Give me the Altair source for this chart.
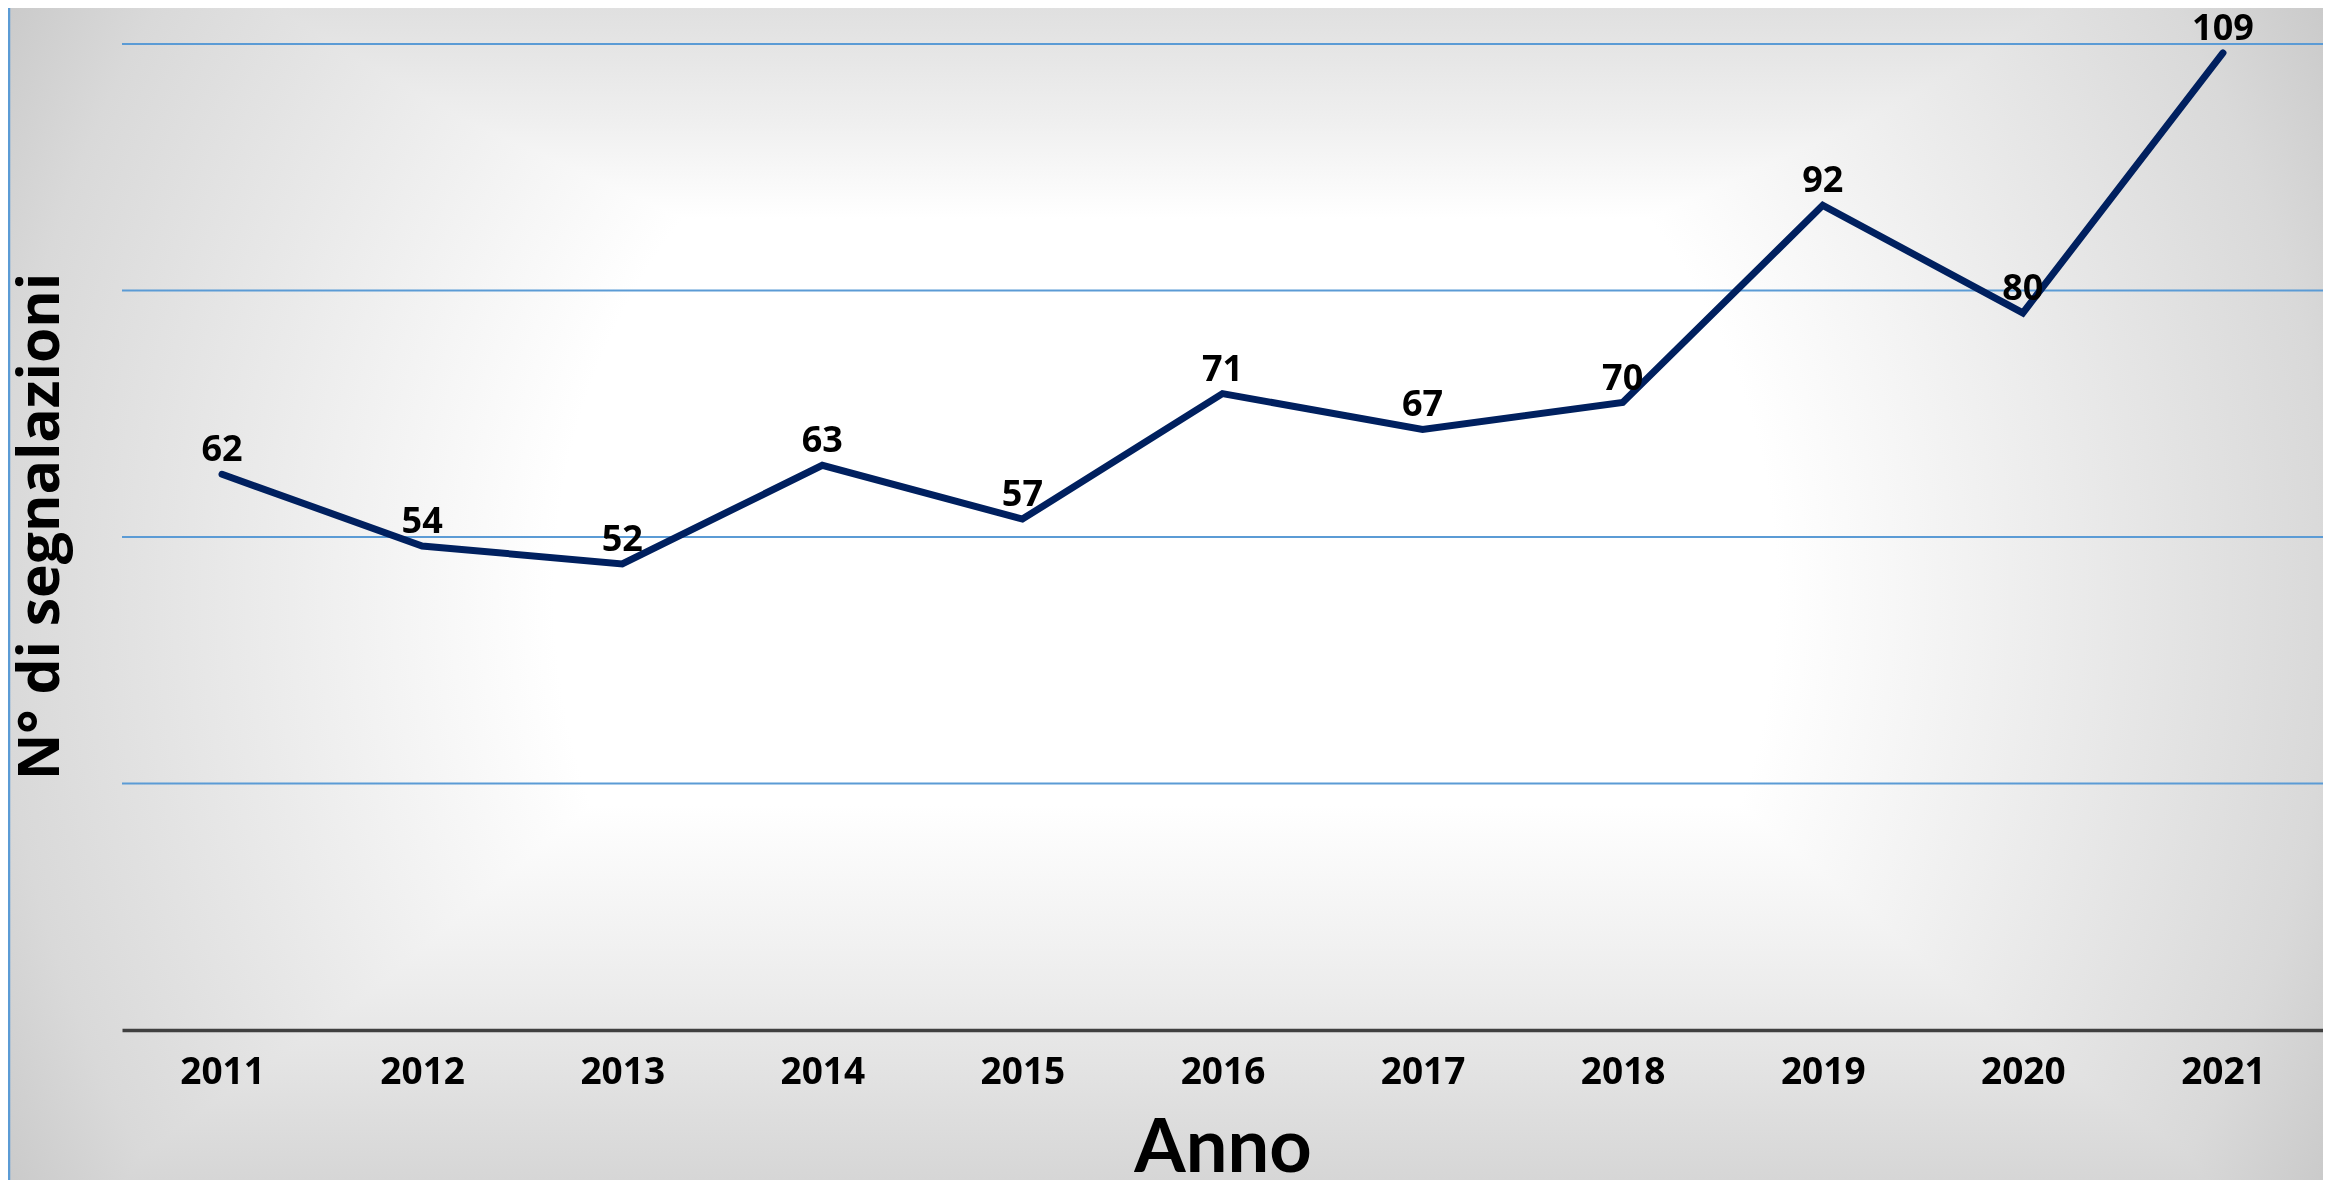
import altair as alt
import pandas as pd

# ---- data ----
years = [2011, 2012, 2013, 2014, 2015, 2016, 2017, 2018, 2019, 2020, 2021]
segnalazioni = [62, 54, 52, 63, 57, 71, 67, 70, 92, 80, 109]
grid_values = [27.5, 55, 82.5, 110]
y_max = 110

df = pd.DataFrame({"Anno": years, "N": segnalazioni})
grid_df = pd.DataFrame({"N": grid_values})

PLOT_W = 2201
PLOT_H = 986
PAD_L, PAD_T, PAD_B = 114, 36, 150

x_axis = alt.Axis(title="Anno", labelAngle=0, labelFont="Open Sans",
                  labelFontSize=37, labelFontWeight="bold", labelColor="black",
                  labelPadding=53, labelBaseline="alphabetic",
                  ticks=False, tickSize=0, domainColor="#404040", domainWidth=3.5,
                  grid=False, titleFont="Lato, Open Sans",
                  titleFontSize=74, titleFontWeight="bold", titleColor="black",
                  titleY=141, titleBaseline="alphabetic", zindex=1)
y_scale = alt.Scale(domain=[0, y_max], nice=False, zero=True)
y_axis = alt.Axis(title="N° di segnalazioni", labels=False, ticks=False,
                  domain=False, grid=False, titleFont="Open Sans",
                  titleFontSize=57, titleFontWeight="bold", titleColor="black",
                  titleX=-81, titleY=PLOT_H / 2 - 11, titleAngle=270,
                  titleAlign="center", titleBaseline="middle", zindex=1)

x_enc = alt.X("Anno:O", scale=alt.Scale(type="point", padding=0.5), axis=x_axis)
y_enc = alt.Y("N:Q", scale=y_scale, axis=y_axis)

radial = {
    "gradient": "radial", "x1": 0.5, "y1": 0.5, "r1": 0, "x2": 0.5, "y2": 0.5, "r2": 0.6,
    "stops": [
        {"offset": 0, "color": "#ffffff"},
        {"offset": 0.44, "color": "#ffffff"},
        {"offset": 0.84, "color": "#d9d9d9"},
        {"offset": 0.95, "color": "#c8c8c8"},
        {"offset": 1, "color": "#c4c4c4"},
    ],
}
vertical = {
    "gradient": "linear", "x1": 0, "y1": 0, "x2": 0, "y2": 1,
    "stops": [
        {"offset": 0, "color": "#e0e0e0"},
        {"offset": 0.04, "color": "#e6e6e6"},
        {"offset": 0.09, "color": "#eeeeee"},
        {"offset": 0.18, "color": "#ffffff"},
        {"offset": 0.68, "color": "#ffffff"},
        {"offset": 0.84, "color": "#ececec"},
        {"offset": 1, "color": "#d6d6d6"},
    ],
}

base = alt.Chart(df)

bg = base.mark_rect(color=radial).encode(
    x=alt.value(-PAD_L), x2=alt.value(PLOT_W), y=alt.value(-PAD_T), y2=alt.value(PLOT_H + PAD_B)
).transform_filter(alt.datum.Anno == 2011)

bg2 = base.mark_rect(color=vertical, blend="darken").encode(
    x=alt.value(-PAD_L), x2=alt.value(PLOT_W), y=alt.value(-PAD_T), y2=alt.value(PLOT_H + PAD_B)
).transform_filter(alt.datum.Anno == 2011)

border = base.mark_rule(color="#5b9bd5", strokeWidth=2.5).encode(
    x=alt.value(-PAD_L + 1), y=alt.value(-PAD_T), y2=alt.value(PLOT_H + PAD_B)
).transform_filter(alt.datum.Anno == 2011)

line = base.mark_line(color="#00205f", strokeWidth=7, strokeJoin="miter",
                      strokeCap="round").encode(x=x_enc, y=y_enc)

grid = alt.Chart(grid_df).mark_rule(color="#5b9bd5", strokeWidth=2).encode(
    y=y_enc, x=alt.value(0), x2=alt.value(PLOT_W)
)

labels = base.mark_text(font="Open Sans", fontWeight="bold", fontSize=36, color="black",
                        baseline="alphabetic", dy=-13).encode(
    x=x_enc, y=y_enc, text="N:Q")

chart = alt.layer(bg, bg2, border, grid, line, labels).properties(
    width=PLOT_W, height=PLOT_H,
    autosize=alt.AutoSizeParams(type="none"),
    padding={"left": PAD_L, "top": PAD_T, "right": 0, "bottom": PAD_B},
    background="#d0d0d0",
).configure_view(stroke=None)

chart.save("out.html", embed_options={"renderer": "svg", "actions": False})
